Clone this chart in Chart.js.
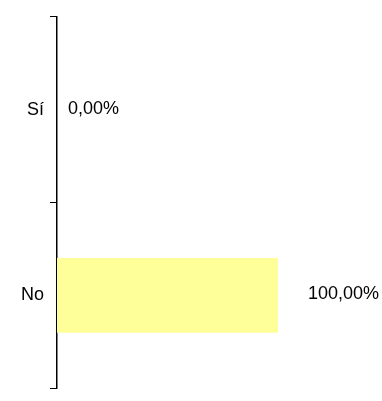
<!DOCTYPE html>
<html>
<head>
<meta charset="utf-8">
<script src="https://cdn.jsdelivr.net/npm/chart.js@4"></script>
<style>
  html, body { margin: 0; padding: 0; overflow: hidden; background: #fff; }
</style>
</head>
<body>
<canvas id="chart" width="382" height="405"></canvas>
<script>
const categories = ['Sí', 'No'];
const percentages = [0, 100];
const valueLabels = ['0,00%', '100,00%'];

const FONT = '"Liberation Sans", Arial, sans-serif';

// draws the percentage text at the end of each bar
const valueLabelPlugin = {
    id: 'valueLabels',
    afterDatasetsDraw(chart, args, opts) {
        const ctx = chart.ctx;
        const meta = chart.getDatasetMeta(0);
        ctx.save();
        ctx.font = `${opts.size}px ${FONT}`;
        ctx.fillStyle = '#000';
        ctx.textAlign = 'left';
        ctx.textBaseline = 'middle';
        meta.data.forEach((bar, i) => {
            ctx.fillText(valueLabels[i], bar.x + opts.offsets[i], bar.y - 1);
        });
        ctx.restore();
    }
};

new Chart(document.getElementById('chart'), {
    type: 'bar',
    data: {
        labels: categories,
        datasets: [{
            data: percentages,
            backgroundColor: '#FFFF99',
            borderWidth: 0,
            barPercentage: 0.403,
            categoryPercentage: 1
        }]
    },
    options: {
        indexAxis: 'y',
        responsive: false,
        animation: false,
        layout: { padding: { top: 12, right: 104, bottom: 1, left: 0 } },
        scales: {
            x: { display: false, min: 0, max: 100 },
            y: {
                afterFit: (scale) => { scale.width = 57; },
                grid: {
                    offset: true,
                    drawOnChartArea: false,
                    drawTicks: true,
                    tickLength: 7,
                    color: '#000',
                    lineWidth: 1
                },
                border: { display: true, color: '#000', width: 1.5 },
                ticks: {
                    color: '#000',
                    padding: 6,
                    font: { family: FONT, size: 18 }
                }
            }
        },
        plugins: {
            legend: { display: false },
            tooltip: { enabled: false },
            valueLabels: { size: 18, offsets: [11, 30] }
        }
    },
    plugins: [valueLabelPlugin]
});
</script>
</body>
</html>
